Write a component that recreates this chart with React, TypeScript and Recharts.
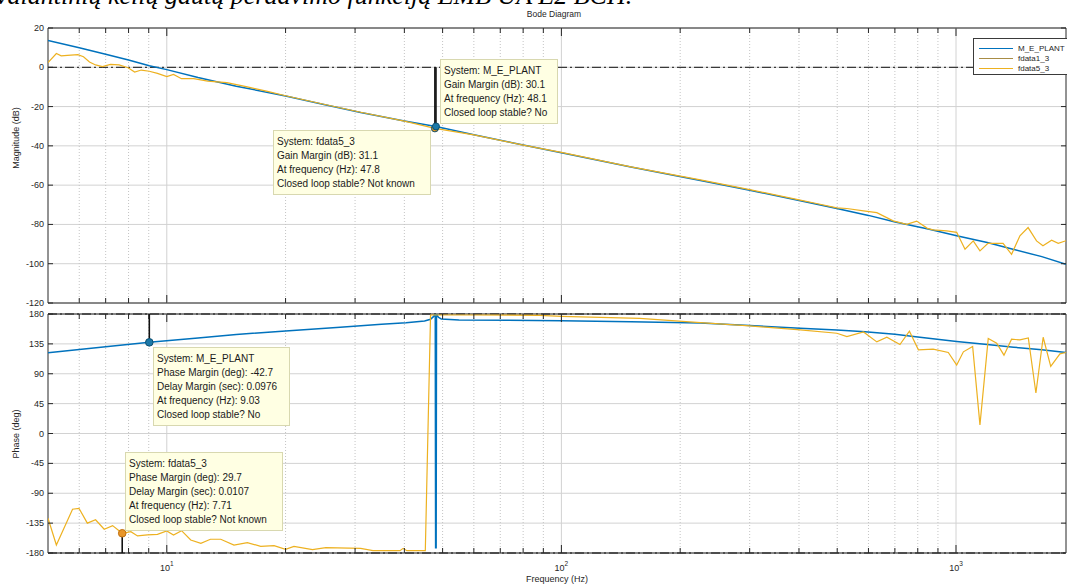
import React from 'react';
import {
  LineChart,
  Line,
  XAxis,
  YAxis,
  CartesianGrid,
  ReferenceLine,
  ReferenceDot,
  ReferenceArea,
} from 'recharts';

// frequency (Hz) vs magnitude (dB) / phase (deg)
const plantMag = [
  { f: 5, v: 13.7 }, { f: 6, v: 9.9 }, { f: 7, v: 6.6 }, { f: 8, v: 3.7 },
  { f: 9.03, v: 0.8 }, { f: 10, v: -1.2 }, { f: 12, v: -5.2 }, { f: 15, v: -9.6 },
  { f: 20, v: -14.6 }, { f: 25, v: -18.9 }, { f: 31, v: -23 }, { f: 40, v: -27.3 },
  { f: 48.1, v: -30.1 }, { f: 60, v: -34.3 }, { f: 75, v: -38.4 }, { f: 100, v: -43.5 },
  { f: 150, v: -50.8 }, { f: 225, v: -57.6 }, { f: 300, v: -62.6 }, { f: 403, v: -67.9 },
  { f: 499, v: -71.9 }, { f: 600, v: -75.4 }, { f: 701, v: -78.8 }, { f: 850, v: -82.3 },
  { f: 1004, v: -85.8 }, { f: 1200, v: -89.2 }, { f: 1394, v: -92.6 }, { f: 1650, v: -96.4 },
  { f: 1900, v: -100.3 },
];

const plantPhase = [
  { f: 5, v: 121.7 }, { f: 7, v: 130.5 }, { f: 9.03, v: 137.3 }, { f: 12, v: 144 },
  { f: 15, v: 149 }, { f: 20, v: 154.5 }, { f: 27.5, v: 160 }, { f: 35, v: 164.5 },
  { f: 40.4, v: 167 }, { f: 45, v: 169.5 }, { f: 46.6, v: 172 }, { f: 47.4, v: 176 },
  { f: 47.9, v: 180 }, { f: 48.0, v: -172 }, { f: 48.15, v: -172 }, { f: 48.25, v: 180 },
  { f: 48.8, v: 175 }, { f: 49.6, v: 172.5 }, { f: 55, v: 171 }, { f: 100, v: 170 },
  { f: 150, v: 168.5 }, { f: 225, v: 166.5 }, { f: 300, v: 162.5 }, { f: 403, v: 158.5 },
  { f: 499, v: 156 }, { f: 588, v: 153.4 }, { f: 700, v: 149.5 }, { f: 800, v: 145.5 },
  { f: 1004, v: 138.5 }, { f: 1200, v: 134 }, { f: 1400, v: 130 }, { f: 1650, v: 126 },
  { f: 1900, v: 122 },
];

const fdata5Mag = [
  { f: 5, v: 2.4 }, { f: 5.25, v: 7.0 }, { f: 5.4, v: 5.8 }, { f: 5.6, v: 6.1 },
  { f: 5.95, v: 6.4 }, { f: 6.15, v: 5.4 }, { f: 6.37, v: 2.7 }, { f: 6.6, v: 1.2 },
  { f: 6.87, v: 0.3 }, { f: 7.2, v: 1.5 }, { f: 7.57, v: 1.2 }, { f: 7.98, v: -0.2 },
  { f: 8.29, v: -2.4 }, { f: 8.62, v: -1.4 }, { f: 9.03, v: -2.0 }, { f: 9.47, v: -3.1 },
  { f: 10, v: -4.7 }, { f: 10.4, v: -3.6 }, { f: 10.9, v: -5.8 }, { f: 11.7, v: -5.8 },
  { f: 12.7, v: -7.0 }, { f: 14.2, v: -7.8 }, { f: 16, v: -10 }, { f: 18, v: -12.3 },
  { f: 20, v: -14.5 }, { f: 25, v: -18.8 }, { f: 31, v: -22.9 }, { f: 40, v: -27.4 },
  { f: 47.8, v: -31.1 }, { f: 60, v: -34.4 }, { f: 80, v: -39.6 }, { f: 100, v: -43.3 },
  { f: 150, v: -50.7 }, { f: 225, v: -57.3 }, { f: 300, v: -62.3 }, { f: 403, v: -67.6 },
  { f: 440, v: -69.2 }, { f: 499, v: -71.6 }, { f: 529, v: -71.9 }, { f: 583, v: -73.1 },
  { f: 630, v: -74.0 }, { f: 693, v: -78.2 }, { f: 750, v: -80.0 }, { f: 795, v: -78.3 },
  { f: 846, v: -82.0 }, { f: 875, v: -82.8 }, { f: 947, v: -83.3 }, { f: 1004, v: -84.0 },
  { f: 1054, v: -92.6 }, { f: 1106, v: -88.4 }, { f: 1150, v: -93.5 }, { f: 1205, v: -89.6 },
  { f: 1316, v: -89.6 }, { f: 1383, v: -95.2 }, { f: 1452, v: -85.8 }, { f: 1523, v: -81.6 },
  { f: 1600, v: -88.4 }, { f: 1661, v: -90.9 }, { f: 1747, v: -88.0 }, { f: 1816, v: -89.6 },
  { f: 1900, v: -88.3 },
];

const fdata5Phase = [
  { f: 5, v: -127.7 }, { f: 5.25, v: -168 }, { f: 5.77, v: -114 }, { f: 5.99, v: -112.7 },
  { f: 6.29, v: -135 }, { f: 6.6, v: -130 }, { f: 6.94, v: -144.2 }, { f: 7.29, v: -138.8 },
  { f: 7.71, v: -150.3 }, { f: 8.11, v: -147.8 }, { f: 8.43, v: -154.3 }, { f: 8.93, v: -152.8 },
  { f: 9.47, v: -152 }, { f: 10, v: -146.8 }, { f: 10.4, v: -152.8 }, { f: 10.9, v: -146.3 },
  { f: 11.5, v: -160.4 }, { f: 12.2, v: -165.3 }, { f: 12.9, v: -159.3 }, { f: 13.7, v: -159.3 },
  { f: 14.8, v: -168 }, { f: 16, v: -164.4 }, { f: 17.3, v: -170 }, { f: 18.7, v: -169 },
  { f: 20, v: -174.5 }, { f: 21, v: -170 }, { f: 23.4, v: -175 }, { f: 25.3, v: -172 },
  { f: 31, v: -173 }, { f: 33.3, v: -176.5 }, { f: 39, v: -176.5 }, { f: 39.7, v: -173 },
  { f: 40.6, v: -176.5 }, { f: 45.2, v: -176.5 }, { f: 46.6, v: 178.5 }, { f: 60, v: 178.5 },
  { f: 88, v: 178 }, { f: 100, v: 176.5 }, { f: 158, v: 173.5 }, { f: 225, v: 167 },
  { f: 300, v: 162 }, { f: 403, v: 156 }, { f: 499, v: 151 }, { f: 529, v: 146 },
  { f: 583, v: 153 }, { f: 630, v: 138 }, { f: 668, v: 145 }, { f: 721, v: 134 },
  { f: 762, v: 154 }, { f: 803, v: 126 }, { f: 875, v: 127 }, { f: 956, v: 122 },
  { f: 1004, v: 103 }, { f: 1044, v: 123 }, { f: 1102, v: 131 }, { f: 1150, v: 13 },
  { f: 1207, v: 143 }, { f: 1268, v: 136 }, { f: 1323, v: 118 }, { f: 1383, v: 142 },
  { f: 1452, v: 141 }, { f: 1525, v: 144 }, { f: 1594, v: 61 }, { f: 1663, v: 145 },
  { f: 1738, v: 101 }, { f: 1834, v: 120 }, { f: 1900, v: 122 },
];

const freqDomain = [5, 1900];
const magDomain = [-120, 20];
const phaseDomain = [-180, 180];
const magTicks = [-120, -100, -80, -60, -40, -20, 0, 20];
const phaseTicks = [-180, -135, -90, -45, 0, 45, 90, 135, 180];
const decadeFreqs = [10, 100, 1000];
const minorFreqs = [6, 7, 8, 9, 20, 30, 40, 50, 60, 70, 80, 90, 200, 300, 400, 500, 600, 700, 800, 900];
const freqTicks = [...minorFreqs, ...decadeFreqs].sort((a, b) => a - b);

// stability margins shown by the data tips
const gainMargins = [
  { sys: 'fdata5_3', f: 47.8, v: -31.1 },
  { sys: 'M_E_PLANT', f: 48.1, v: -30.1 },
];
const phaseMargins = [
  { sys: 'M_E_PLANT', f: 9.03, v: 137.3, ref: 180 },
  { sys: 'fdata5_3', f: 7.71, v: -150.3, ref: -180 },
];

const BLUE = '#0072BD';
const BROWN = '#a88c45';
const YELLOW = '#EDB120';
const AXIS = '#262626';
const GRID = '#d2d2d2';
const FONT = '"Liberation Sans", Arial, sans-serif';

const W = 1067;
const PLOT_L = 48;
const PLOT_R = 1066;

const xTick = (top: number, bottom: number, labels: boolean) => (props: any) => {
  const { x, payload } = props;
  const f = payload.value;
  const major = decadeFreqs.includes(f);
  const len = major ? 8 : 5;
  return (
    <g>
      <line x1={x} x2={x} y1={bottom} y2={bottom - len} stroke={AXIS} />
      <line x1={x} x2={x} y1={top} y2={top + len} stroke={AXIS} />
      {labels && major && (
        <text x={x} y={bottom + 18} textAnchor="middle" fontSize={9} fill={AXIS} fontFamily={FONT}>
          10<tspan dy={-5} fontSize={6.5}>{Math.round(Math.log10(f))}</tspan>
        </text>
      )}
    </g>
  );
};

const yTick = (props: any) => {
  const { y, payload } = props;
  return (
    <g>
      <line x1={PLOT_L} x2={PLOT_L + 5} y1={y} y2={y} stroke={AXIS} />
      <line x1={PLOT_R - 5} x2={PLOT_R} y1={y} y2={y} stroke={AXIS} />
      <text x={PLOT_L - 4} y={y} dy={3} textAnchor="end" fontSize={9} fill={AXIS} fontFamily={FONT}>
        {payload.value}
      </text>
    </g>
  );
};

const sysColor = (s: string) => (s === 'M_E_PLANT' ? BLUE : '#e59a22');

function Tip({ left, top, width, lines }: { left: number; top: number; width: number; lines: string[] }) {
  return (
    <div
      style={{
        position: 'absolute',
        left,
        top,
        width,
        padding: '4px 0 3px 3px',
        background: '#ffffe3',
        border: '1px solid #d8d8b0',
        boxSizing: 'border-box',
        fontSize: 10,
        lineHeight: '14px',
        color: '#1a1a1a',
        fontFamily: FONT,
        whiteSpace: 'nowrap',
      }}
    >
      {lines.map((l) => (
        <div key={l}>{l}</div>
      ))}
    </div>
  );
}

export default function App() {
  const magPlotTop = 28;
  const magPlotBottom = 303;
  const phPlotTop = 14;
  const phPlotBottom = 253;

  return (
    <div style={{ position: 'absolute', left: 0, top: 0, width: W, height: 587, overflow: 'hidden', background: '#fff', fontFamily: FONT }}>
      <div
        style={{
          position: 'absolute',
          left: -4,
          top: -17,
          fontFamily: '"Liberation Serif", "Times New Roman", serif',
          fontStyle: 'italic',
          fontSize: 26,
          lineHeight: '26px',
          whiteSpace: 'nowrap',
          color: '#000',
        }}
      >
        valantinių kelių gautų perdavimo funkciją EMB UA E2 BCH.
      </div>
      <div style={{ position: 'absolute', left: 554, top: 9, transform: 'translateX(-50%)', fontSize: 8.5, color: AXIS }}>
        Bode Diagram
      </div>

      {/* magnitude */}
      <div style={{ position: 'absolute', left: 0, top: 0 }}>
        <LineChart width={W} height={310} margin={{ top: magPlotTop, right: W - PLOT_R, bottom: 0, left: 0 }}>
          <CartesianGrid vertical={false} stroke={GRID} />
          {minorFreqs.map((f) => (
            <ReferenceLine key={'m' + f} x={f} stroke="#c4c4c4" strokeDasharray="1 2" />
          ))}
          {decadeFreqs.map((f) => (
            <ReferenceLine key={'d' + f} x={f} stroke={GRID} />
          ))}
          <XAxis
            dataKey="f"
            type="number"
            scale="log"
            domain={freqDomain}
            allowDataOverflow
            ticks={freqTicks}
            interval={0}
            height={7}
            tickLine={false}
            tickSize={0}
            axisLine={false}
            tick={xTick(magPlotTop, magPlotBottom, false)}
          />
          <YAxis
            type="number"
            domain={magDomain}
            allowDataOverflow
            ticks={magTicks}
            interval={0}
            width={PLOT_L}
            tickLine={false}
            tickSize={0}
            axisLine={false}
            tick={yTick}
          />
          <ReferenceLine y={0} stroke="#3a3a3a" strokeWidth={1.3} strokeDasharray="9 3 2 3" />
          <Line data={plantMag} dataKey="v" type="linear" dot={false} stroke={BLUE} strokeWidth={1.5} isAnimationActive={false} />
          <Line data={fdata5Mag} dataKey="v" type="linear" dot={false} stroke={YELLOW} strokeWidth={1.2} isAnimationActive={false} />
          {gainMargins.map((m) => (
            <ReferenceLine key={'gl' + m.sys} segment={[{ x: m.f, y: 0 }, { x: m.f, y: m.v }]} stroke="#111" strokeWidth={1.6} />
          ))}
          {gainMargins.map((m) => (
            <ReferenceDot key={'gd' + m.sys} x={m.f} y={m.v} r={3.5} fill={m.sys === 'M_E_PLANT' ? '#1c78a8' : sysColor(m.sys)} stroke="#0d4f70" />
          ))}
          <ReferenceArea x1={freqDomain[0]} x2={freqDomain[1]} y1={magDomain[0]} y2={magDomain[1]} fill="none" stroke={AXIS} strokeWidth={1} />
        </LineChart>
      </div>

      {/* phase */}
      <div style={{ position: 'absolute', left: 0, top: 300 }}>
        <LineChart width={W} height={287} margin={{ top: phPlotTop, right: W - PLOT_R, bottom: 0, left: 0 }}>
          <CartesianGrid vertical={false} stroke={GRID} />
          {minorFreqs.map((f) => (
            <ReferenceLine key={'m' + f} x={f} stroke="#c4c4c4" strokeDasharray="1 2" />
          ))}
          {decadeFreqs.map((f) => (
            <ReferenceLine key={'d' + f} x={f} stroke={GRID} />
          ))}
          <XAxis
            dataKey="f"
            type="number"
            scale="log"
            domain={freqDomain}
            allowDataOverflow
            ticks={freqTicks}
            interval={0}
            height={34}
            tickLine={false}
            tickSize={0}
            axisLine={false}
            tick={xTick(phPlotTop, phPlotBottom, true)}
            label={{ value: 'Frequency  (Hz)', position: 'insideBottom', offset: 5, fontSize: 9, fill: AXIS, fontFamily: FONT }}
          />
          <YAxis
            type="number"
            domain={phaseDomain}
            allowDataOverflow
            ticks={phaseTicks}
            interval={0}
            width={PLOT_L}
            tickLine={false}
            tickSize={0}
            axisLine={false}
            tick={yTick}
          />
          <ReferenceLine y={180} stroke="#3a3a3a" strokeWidth={1.3} strokeDasharray="9 3 2 3" />
          <ReferenceLine y={-180} stroke="#3a3a3a" strokeWidth={1.3} strokeDasharray="9 3 2 3" />
          <Line data={plantPhase} dataKey="v" type="linear" dot={false} stroke={BLUE} strokeWidth={1.5} isAnimationActive={false} />
          <Line data={fdata5Phase} dataKey="v" type="linear" dot={false} stroke={YELLOW} strokeWidth={1.2} isAnimationActive={false} />
          {phaseMargins.map((m) => (
            <ReferenceLine key={'pl' + m.sys} segment={[{ x: m.f, y: m.ref }, { x: m.f, y: m.v }]} stroke="#111" strokeWidth={1.6} />
          ))}
          {phaseMargins.map((m) => (
            <ReferenceDot
              key={'pd' + m.sys}
              x={m.f}
              y={m.v}
              r={3.8}
              fill={m.sys === 'M_E_PLANT' ? '#1c78a8' : '#e8962a'}
              stroke={m.sys === 'M_E_PLANT' ? '#0d4f70' : '#c07010'}
            />
          ))}
          <ReferenceArea x1={freqDomain[0]} x2={freqDomain[1]} y1={phaseDomain[0]} y2={phaseDomain[1]} fill="none" stroke={AXIS} strokeWidth={1} />
        </LineChart>
      </div>

      {/* axis titles */}
      <div style={{ position: 'absolute', left: 16, top: 138, transform: 'translate(-50%, -50%) rotate(-90deg)', fontSize: 9, color: AXIS, whiteSpace: 'nowrap' }}>
        Magnitude (dB)
      </div>
      <div style={{ position: 'absolute', left: 16, top: 434, transform: 'translate(-50%, -50%) rotate(-90deg)', fontSize: 9, color: AXIS, whiteSpace: 'nowrap' }}>
        Phase (deg)
      </div>

      {/* legend */}
      <div
        style={{
          position: 'absolute',
          left: 973,
          top: 38,
          width: 100,
          height: 37,
          background: '#fff',
          border: '1px solid #3a3a3a',
          boxSizing: 'border-box',
          fontSize: 8,
          color: AXIS,
        }}
      >
        {[
          { name: 'M_E_PLANT', color: BLUE },
          { name: 'fdata1_3', color: BROWN },
          { name: 'fdata5_3', color: YELLOW },
        ].map((s, i) => (
          <div key={s.name} style={{ position: 'absolute', left: 5, top: 4 + i * 10.3, height: 10, display: 'flex', alignItems: 'center' }}>
            <div style={{ width: 34, height: 0, borderTop: `1.5px solid ${s.color}`, marginRight: 5 }} />
            <span>{s.name}</span>
          </div>
        ))}
      </div>

      {/* data tips */}
      <Tip left={440} top={59} width={118} lines={['System: M_E_PLANT', 'Gain Margin (dB): 30.1', 'At frequency (Hz): 48.1', 'Closed loop stable? No']} />
      <Tip left={273} top={130} width={158} lines={['System: fdata5_3', 'Gain Margin (dB): 31.1', 'At frequency (Hz): 47.8', 'Closed loop stable? Not known']} />
      <Tip
        left={153}
        top={347}
        width={137}
        lines={['System: M_E_PLANT', 'Phase Margin (deg): -42.7', 'Delay Margin (sec): 0.0976', 'At frequency (Hz): 9.03', 'Closed loop stable? No']}
      />
      <Tip
        left={125}
        top={452}
        width={158}
        lines={['System: fdata5_3', 'Phase Margin (deg): 29.7', 'Delay Margin (sec): 0.0107', 'At frequency (Hz): 7.71', 'Closed loop stable? Not known']}
      />
    </div>
  );
}
